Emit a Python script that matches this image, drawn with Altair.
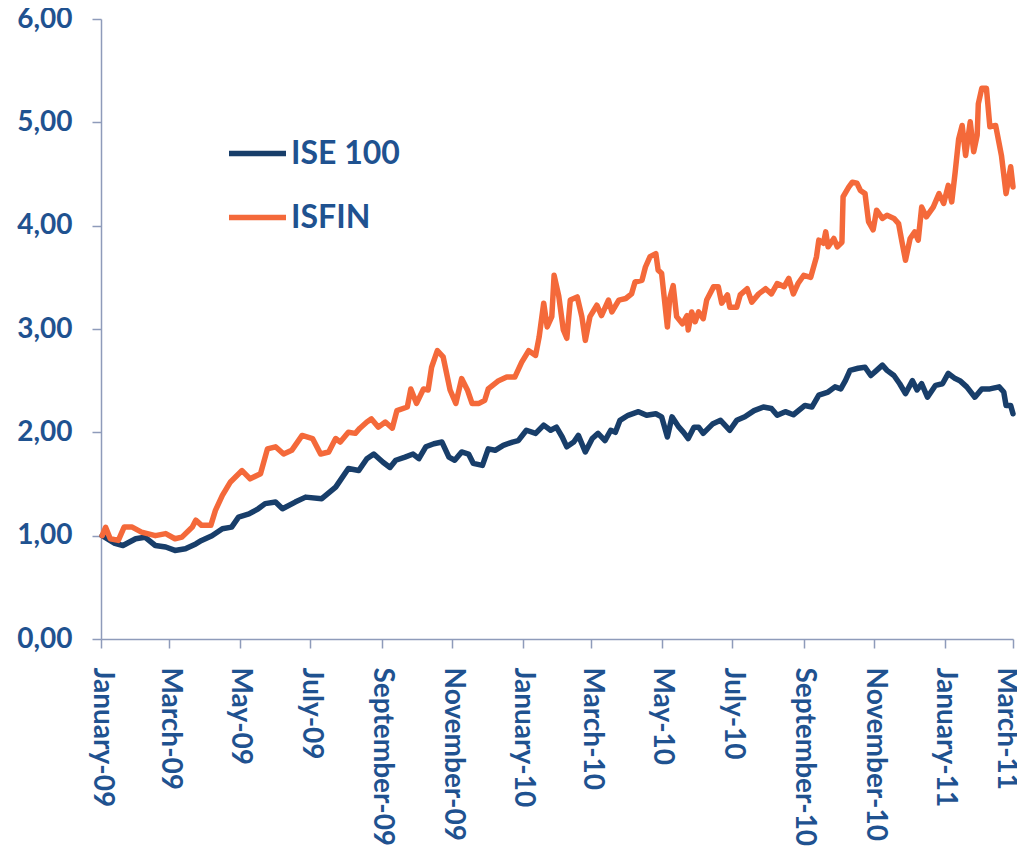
import altair as alt
import pandas as pd

# ---- data ----
series_names = ["ISE 100", "ISFIN"]

# day offsets from 2009-01-01
ise_days = [1, 12, 19, 30, 38, 47, 56, 64, 73, 82, 87, 96, 105, 113, 119, 128, 136, 142, 151, 157,
            168, 177, 191, 203, 207, 214, 223, 230, 236, 244, 250, 255, 263, 270, 275, 281, 288, 295,
            301, 306, 312, 318, 322, 330, 335, 341, 348, 356, 361, 368, 376, 383, 389, 394, 399, 403,
            409, 413, 419, 425, 430, 436, 441, 445, 449, 456, 465, 472, 480, 485, 490, 494, 500, 504,
            508, 513, 517, 521, 529, 536, 544, 550, 557, 565, 573, 580, 585, 592, 599, 609, 615, 621,
            629, 635, 640, 644, 648, 655, 661, 666, 671, 676, 680, 686, 691, 696, 702, 706, 710, 715,
            722, 728, 733, 739, 743, 749, 756, 762, 769, 777, 781, 783, 787, 789]
ise_vals = [1.00, 0.925, 0.905, 0.97, 0.985, 0.905, 0.89, 0.857, 0.873, 0.92, 0.954, 1.00, 1.067,
            1.083, 1.18, 1.21, 1.26, 1.31, 1.325, 1.26, 1.325, 1.373, 1.358, 1.47, 1.535, 1.65, 1.63,
            1.745, 1.79, 1.71, 1.66, 1.73, 1.76, 1.79, 1.745, 1.86, 1.89, 1.906, 1.76, 1.73, 1.81,
            1.79, 1.70, 1.68, 1.84, 1.826, 1.874, 1.906, 1.92, 2.02, 1.99, 2.07, 2.02, 2.05, 1.955,
            1.86, 1.906, 1.97, 1.81, 1.94, 1.99, 1.92, 2.02, 2.00, 2.116, 2.165, 2.20, 2.165, 2.18,
            2.15, 1.955, 2.15, 2.05, 2.00, 1.94, 2.05, 2.05, 1.99, 2.08, 2.116, 2.02, 2.116, 2.15,
            2.21, 2.245, 2.23, 2.165, 2.20, 2.17, 2.26, 2.245, 2.36, 2.39, 2.44, 2.42, 2.50, 2.60,
            2.62, 2.63, 2.55, 2.60, 2.65, 2.60, 2.55, 2.47, 2.375, 2.50, 2.41, 2.47, 2.34, 2.455,
            2.47, 2.57, 2.52, 2.50, 2.44, 2.34, 2.42, 2.42, 2.44, 2.39, 2.26, 2.26, 2.18]

isfin_days = [1, 4, 8, 15, 20, 27, 35, 47, 56, 64, 70, 79, 82, 87, 95, 99, 105, 112, 122, 129, 138,
              144, 151, 158, 165, 174, 183, 190, 197, 203, 207, 214, 220, 224, 230, 234, 240, 246,
              252, 256, 265, 268, 273, 279, 283, 286, 291, 296, 302, 307, 312, 317, 321, 327, 332,
              335, 344, 351, 358, 364, 370, 376, 379, 383, 386, 390, 392, 396, 400, 403, 406, 412,
              416, 419, 423, 429, 433, 439, 442, 448, 454, 459, 462, 468, 471, 475, 480, 482, 485,
              490, 492, 495, 498, 503, 507, 508, 511, 514, 517, 521, 524, 530, 534, 537, 542, 544,
              550, 553, 559, 563, 569, 575, 580, 585, 591, 595, 599, 603, 608, 614, 619, 621, 625,
              627, 629, 634, 637, 641, 642, 647, 650, 654, 657, 661, 664, 668, 671, 676, 680, 686,
              690, 693, 696, 700, 704, 707, 710, 714, 720, 725, 729, 733, 736, 739, 742, 745, 748,
              752, 755, 758, 759, 762, 766, 769, 774, 779, 783, 787, 789]
isfin_vals = [1.00, 1.08, 0.97, 0.954, 1.083, 1.083, 1.035, 1.00, 1.02, 0.97, 0.986, 1.083, 1.15,
              1.10, 1.10, 1.245, 1.39, 1.52, 1.63, 1.55, 1.60, 1.84, 1.86, 1.79, 1.826, 1.97, 1.94,
              1.79, 1.81, 1.94, 1.906, 2.00, 1.99, 2.04, 2.10, 2.13, 2.05, 2.10, 2.04, 2.21, 2.245,
              2.42, 2.28, 2.42, 2.41, 2.63, 2.79, 2.73, 2.41, 2.28, 2.52, 2.41, 2.28, 2.28, 2.31,
              2.42, 2.50, 2.535, 2.535, 2.68, 2.79, 2.745, 2.92, 3.25, 3.02, 3.12, 3.52, 3.32, 2.99,
              2.91, 3.28, 3.31, 3.12, 2.89, 3.12, 3.23, 3.13, 3.28, 3.165, 3.28, 3.295, 3.34, 3.455,
              3.47, 3.60, 3.70, 3.73, 3.57, 3.54, 3.02, 3.295, 3.42, 3.12, 3.05, 3.13, 2.99, 3.165,
              3.07, 3.165, 3.10, 3.28, 3.41, 3.41, 3.25, 3.33, 3.21, 3.21, 3.33, 3.39, 3.26, 3.34,
              3.39, 3.34, 3.44, 3.41, 3.49, 3.34, 3.44, 3.52, 3.50, 3.70, 3.86, 3.83, 3.94, 3.795,
              3.876, 3.795, 3.84, 4.28, 4.375, 4.42, 4.41, 4.34, 4.31, 4.04, 3.96, 4.15, 4.07, 4.10,
              4.07, 4.02, 3.84, 3.666, 3.876, 3.94, 3.86, 4.18, 4.085, 4.18, 4.31, 4.215, 4.39, 4.23,
              4.52, 4.84, 4.97, 4.68, 5.005, 4.715, 4.875, 5.18, 5.33, 5.33, 4.957, 4.97, 4.68, 4.31,
              4.57, 4.375]

tick_months = [(2009, 1), (2009, 3), (2009, 5), (2009, 7), (2009, 9), (2009, 11), (2010, 1),
               (2010, 3), (2010, 5), (2010, 7), (2010, 9), (2010, 11), (2011, 1), (2011, 3)]
y_ticks = [0, 1, 2, 3, 4, 5, 6]

assert len(ise_days) == len(ise_vals), (len(ise_days), len(ise_vals))
assert len(isfin_days) == len(isfin_vals), (len(isfin_days), len(isfin_vals))

base = pd.Timestamp("2009-01-01")


def to_dates(days):
    return [(base + pd.Timedelta(days=d)).strftime("%Y-%m-%d") for d in days]


df = pd.concat([
    pd.DataFrame({"date": to_dates(ise_days), "value": ise_vals, "series": series_names[0], "order": range(len(ise_days))}),
    pd.DataFrame({"date": to_dates(isfin_days), "value": isfin_vals, "series": series_names[1], "order": range(len(isfin_days))}),
], ignore_index=True)

NAVY = "#183E6A"
ORANGE = "#F4693A"
TEXT = "#1F5290"
AXIS = "#8E9BBA"
FONT = "Lato"

x_values = [alt.DateTime(year=y, month=m, date=1, utc=True) for y, m in tick_months]

chart = alt.Chart(df).mark_line(strokeWidth=5.5, strokeJoin="round", strokeCap="round").encode(
    x=alt.X(
        "date:T",
        title=None,
        scale=alt.Scale(type="utc",
                        domain=[alt.DateTime(year=2009, month=1, date=1, utc=True),
                                alt.DateTime(year=2011, month=3, date=1, utc=True)]),
        axis=alt.Axis(values=x_values,
                      labelExpr="utcFormat(datum.value, '%B-%y')",
                      labelAngle=90, labelAlign="left", labelBaseline="middle",
                      labelPadding=19, tickSize=9, grid=False,
                      labelOffset={"condition": {"test": "datum.value > utc(2011, 1, 1)", "value": -8},
                                   "value": 0},
                      labelOverlap=False, labelFlush=False, labelBound=False),
    ),
    y=alt.Y(
        "value:Q",
        title=None,
        scale=alt.Scale(domain=[0, 6], nice=False, zero=True),
        axis=alt.Axis(values=y_ticks,
                      labelExpr="replace(format(datum.value, '.2f'), '.', ',')",
                      labelPadding=20, tickSize=9, grid=False),
    ),
    color=alt.Color(
        "series:N",
        scale=alt.Scale(domain=series_names, range=[NAVY, ORANGE]),
        legend=alt.Legend(title=None, orient="none", legendX=125, legendY=103,
                          symbolType="stroke", symbolSize=3249, symbolStrokeWidth=5.5,
                          labelFont=FONT, labelFontSize=32, labelFontWeight="bold",
                          labelColor=TEXT, labelOffset=2, rowPadding=16, padding=0),
    ),
    order="order:Q",
).properties(
    width=912,
    height=620,
    autosize=alt.AutoSizeParams(type="none"),
    padding={"left": 93, "top": 11, "right": 4, "bottom": 212},
).configure_view(
    stroke=None
).configure_axis(
    labelFont=FONT,
    labelFontSize=28,
    labelFontWeight="bold",
    labelColor=TEXT,
    domainColor=AXIS,
    domainWidth=1.5,
    tickColor=AXIS,
    tickWidth=1.5,
)

chart.save("out.html", embed_options={"renderer": "svg", "actions": False})
